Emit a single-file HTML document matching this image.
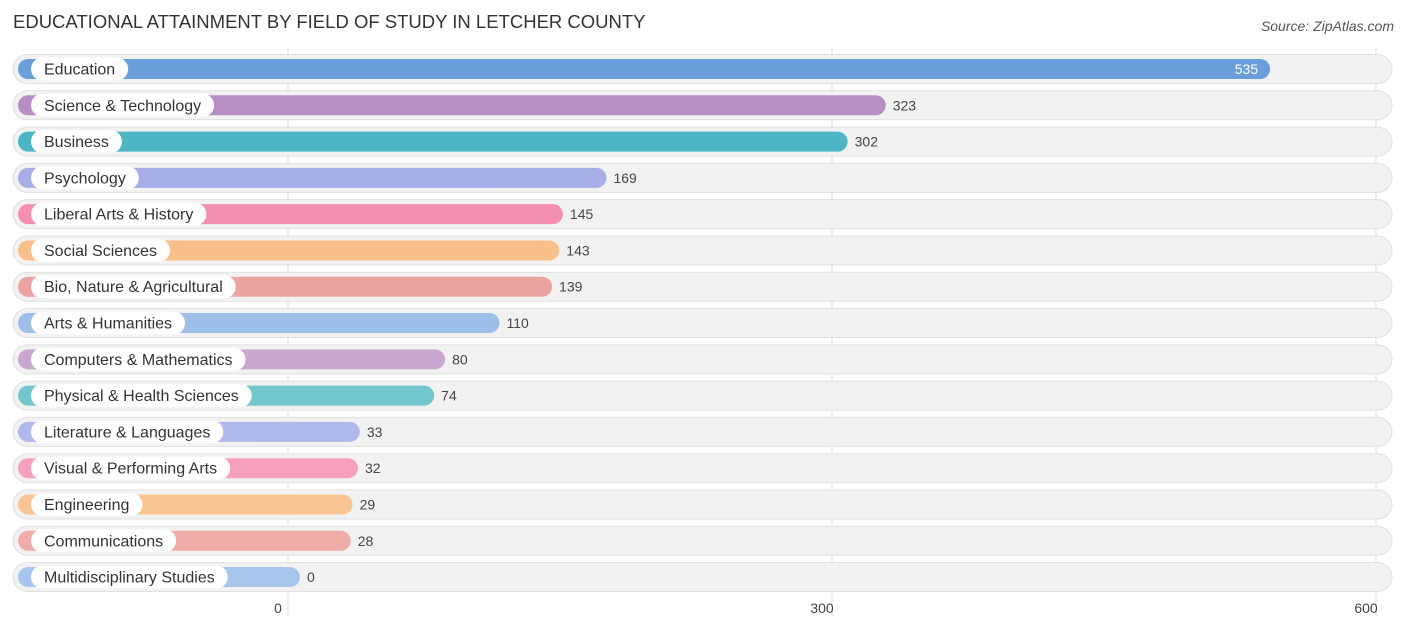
<!DOCTYPE html>
<html><head><meta charset="utf-8"><style>
body{margin:0;background:#fff;font-family:"Liberation Sans",sans-serif;}
svg text{font-family:"Liberation Sans",sans-serif;}
</style></head><body>
<svg id="chart" width="1406" height="632" xmlns="http://www.w3.org/2000/svg">
<text x="13" y="28" font-size="18.5" fill="#333">EDUCATIONAL ATTAINMENT BY FIELD OF STUDY IN LETCHER COUNTY</text>
<text x="1394" y="31" font-size="14" fill="#555" text-anchor="end" font-style="italic">Source: ZipAtlas.com</text>
<g id="grid"></g><g id="rows"></g><g id="ticks"></g>
</svg>
<script>
const categories=["Education","Science & Technology","Business","Psychology","Liberal Arts & History","Social Sciences","Bio, Nature & Agricultural","Arts & Humanities","Computers & Mathematics","Physical & Health Sciences","Literature & Languages","Visual & Performing Arts","Engineering","Communications","Multidisciplinary Studies"];
const values=[535,323,302,169,145,143,139,110,80,74,33,32,29,28,0];
const colors=["#6a9fdc","#b88fc4","#4db5c4","#a8aee8","#f58fb0","#f9c08c","#eca4a0","#9dbfe8","#c9a8cf","#72c6cc","#b0b8ec","#f5a0bf","#f9c592","#f0aca6","#a8c6ec"];
const tickValues=[0,300,600];
const tickLabels=["0","300","600"];
const NS="http://www.w3.org/2000/svg";
function xScale(v){return 288+v*544/300;}
function yRow(i){return 69+i*36.29;}
function mk(t,a,p){const e=document.createElementNS(NS,t);for(const k in a)e.setAttribute(k,a[k]);p.appendChild(e);return e;}
const grid=document.getElementById('grid'),rows=document.getElementById('rows'),ticks=document.getElementById('ticks');
tickValues.forEach((v,i)=>{
 const l=mk('line',{x1:xScale(v),x2:xScale(v),y1:48,y2:616,stroke:'#ddd','stroke-width':1},grid);
 
 
 const t=mk('text',{x:xScale(v)-10,y:613,'font-size':14,fill:'#444','text-anchor':'middle'},ticks);
 
 
 t.textContent=tickLabels[i];
});
categories.forEach((c,i)=>{
 const y=yRow(i);
 const g=mk('g',{},rows);
 
 
 mk('rect',{x:13,y:y-14.5,width:1379,height:29,rx:14.5,fill:'#f2f2f2',stroke:'#e0e0e0','stroke-width':1},g);
 const end=xScale(values[i])+12;
 const b=mk('rect',{x:18,y:y-10,width:end-18,height:20,rx:10,fill:colors[i]},g);
 
 
 const lbl=mk('text',{x:44,y:y+5.5,'font-size':16,fill:'#333'},g);
 lbl.textContent=c;
 const w=lbl.getComputedTextLength();
 const pill=mk('rect',{x:31,y:y-11.5,width:w+26,height:23,rx:11.5,fill:'#fff'},g);
 g.insertBefore(pill,lbl);
 
 
 const inside=values[i]>450;
 const vt=mk('text',{x:inside?end-12:end+7,y:y+5,'font-size':14,fill:inside?'#fff':'#444','text-anchor':inside?'end':'start'},g);
 
 
 vt.textContent=values[i];
});
</script>
</body></html>
